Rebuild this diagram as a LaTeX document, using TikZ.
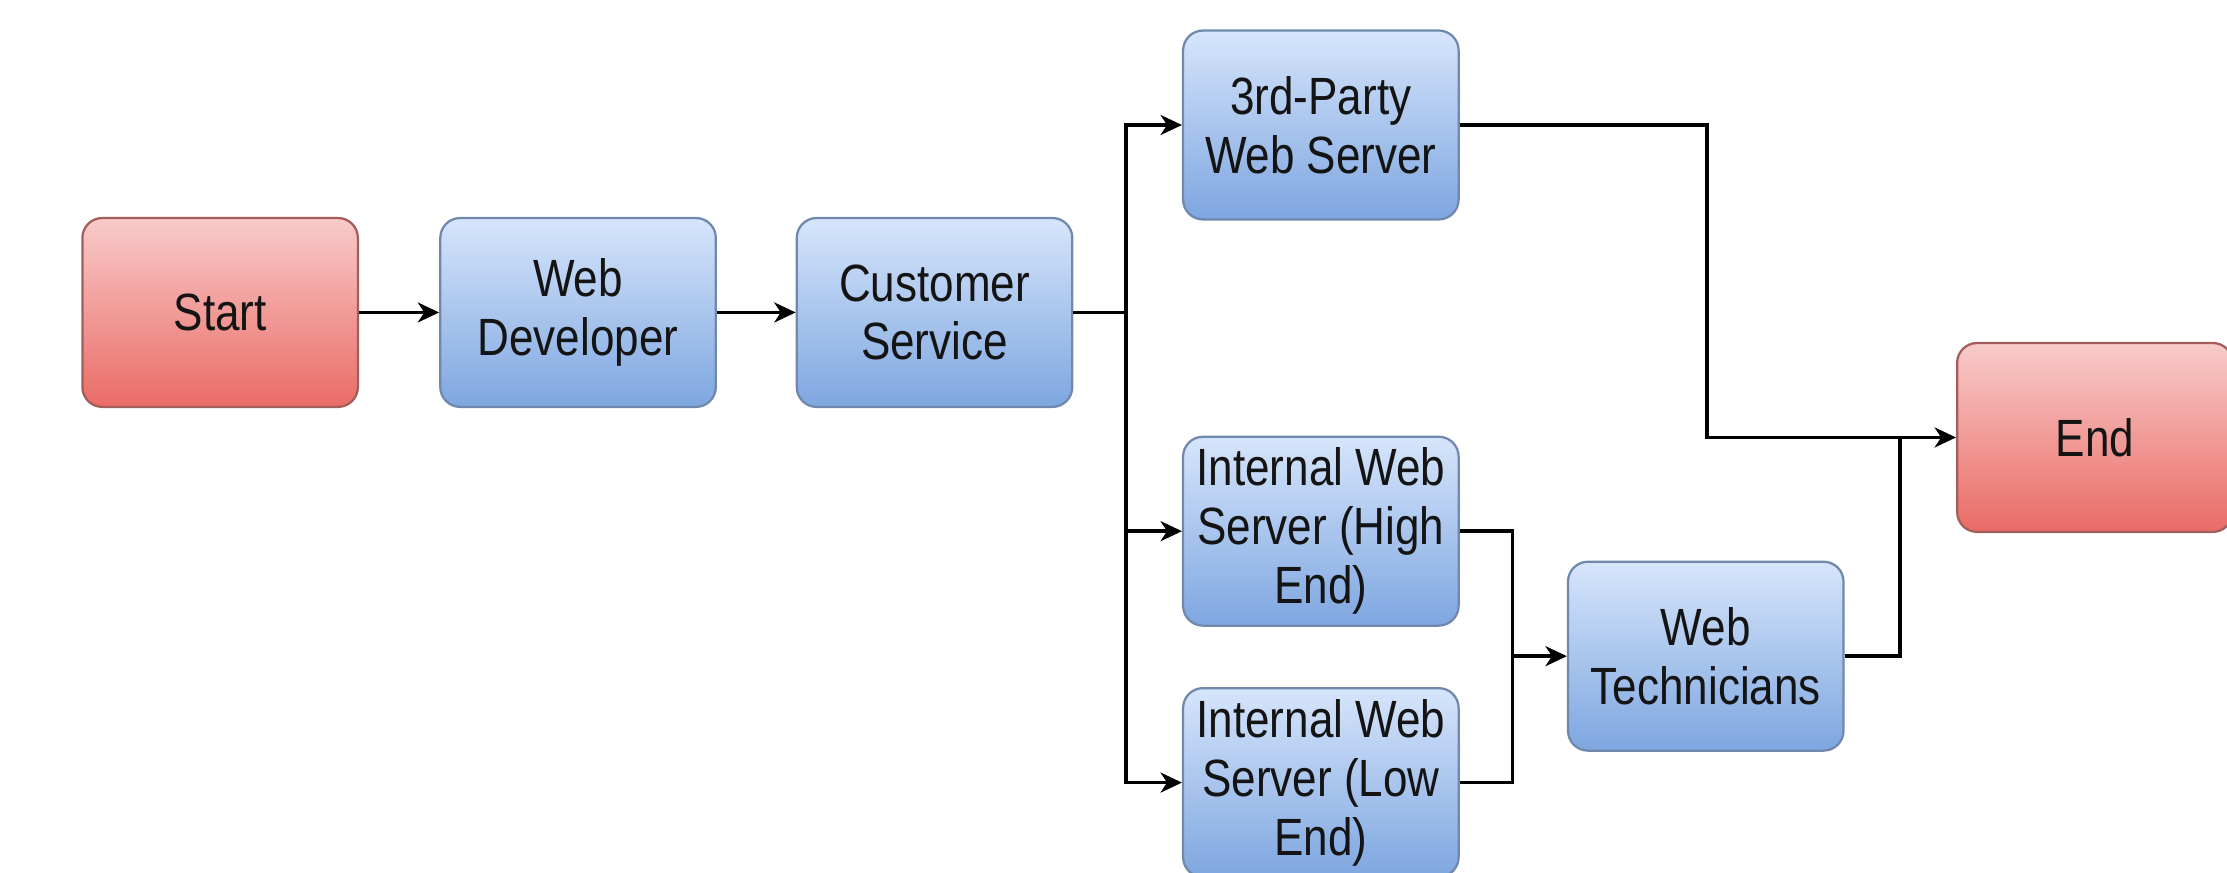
\documentclass[tikz,border=0pt]{standalone}
\usepackage{fontspec}
\setmainfont{Liberation Sans}[FakeStretch=0.84]
\usetikzlibrary{arrows.meta}
\definecolor{bluetop}{HTML}{D6E5FB}
\definecolor{bluebot}{HTML}{7EA6E0}
\definecolor{blueln}{HTML}{6F88AC}
\definecolor{redtop}{HTML}{F8CBCA}
\definecolor{redbot}{HTML}{EA6B66}
\definecolor{redln}{HTML}{A35E5C}
\tikzset{
  box/.style={rounded corners=1.4mm, minimum width=19.4mm, minimum height=13.3mm,
    align=center, inner sep=1pt, line width=0.45pt,
    font=\fontsize{10.5}{11.8}\selectfont, text=black!92},
  bluebox/.style={box, draw=blueln, top color=bluetop, bottom color=bluebot},
  redbox/.style={box, draw=redln, top color=redtop, bottom color=redbot},
  conn/.style={line width=0.75pt, -{Stealth[length=1.5mm, width=1.4mm, inset=0.45mm]}},
  wire/.style={line width=0.75pt}
}
\begin{document}
\begin{tikzpicture}[x=0.1mm, y=-0.1mm]
\useasboundingbox (0,0) rectangle (1568,614);
\clip (0,0) rectangle (1568,614);
\node[redbox] (s) at (155,220) {Start};
\node[bluebox] (wd) at (407,220) {Web\\Developer};
\node[bluebox] (cs) at (658,220) {Customer\\Service};
\node[bluebox] (tp) at (930,88) {3rd-Party\\Web Server};
\node[bluebox] (hi) at (930,374) {Internal Web\\Server (High\\End)};
\node[bluebox] (lo) at (930,551) {Internal Web\\Server (Low\\End)};
\node[bluebox] (wt) at (1201,462) {Web\\Technicians};
\node[redbox] (en) at (1475,308) {End};
\coordinate (j1) at (793,220);
\coordinate (j2) at (1202,308);
\coordinate (j3) at (1065,462);
\coordinate (j4) at (1338,308);
\draw[conn] (s) -- (wd);
\draw[conn] (wd) -- (cs);
\draw[wire] (cs) -- (j1);
\draw[conn] (j1) |- (tp);
\draw[conn] (j1) |- (hi);
\draw[conn] (j1) |- (lo);
\draw[conn] (tp.east) -| (j2) -- (en);
\draw[wire] (hi.east) -| (j3);
\draw[wire] (lo.east) -| (j3);
\draw[conn] (j3) -- (wt);
\draw[wire] (wt.east) -| (j4);
\end{tikzpicture}
\end{document}
